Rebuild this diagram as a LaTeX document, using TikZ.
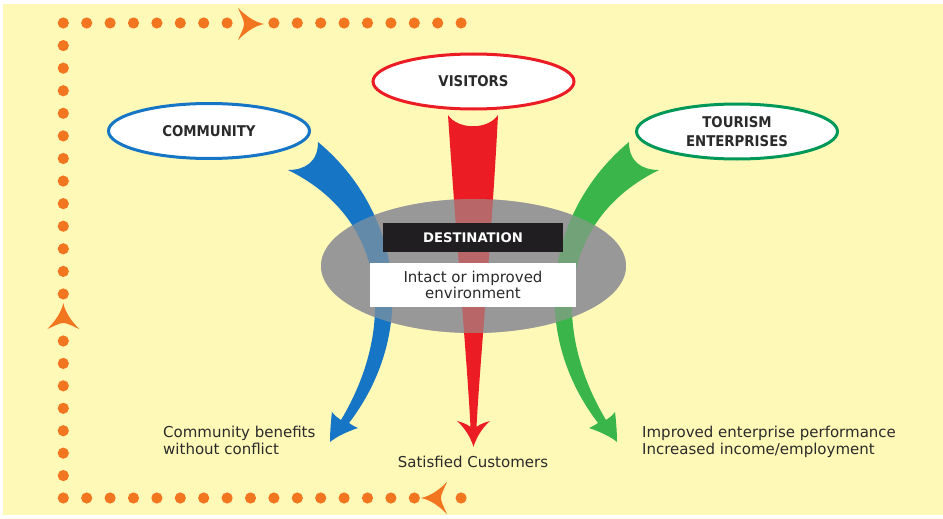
\documentclass[tikz,border=0pt]{standalone}
\usepackage{fontspec}
\setmainfont{DejaVu Sans}
\newfontfamily\ovalfont{DejaVu Sans}[FakeStretch=0.9]
\usetikzlibrary{shapes.geometric}

\definecolor{bgyellow}{RGB}{255,249,184}
\definecolor{looporange}{RGB}{242,118,32}
\definecolor{flowblue}{RGB}{22,117,196}
\definecolor{flowred}{RGB}{236,28,36}
\definecolor{flowgreen}{RGB}{57,181,74}
\definecolor{rimgreen}{RGB}{0,152,88}
\definecolor{destgrey}{RGB}{152,152,152}
\definecolor{bartext}{RGB}{32,30,32}
\definecolor{inktext}{RGB}{42,42,42}

\tikzset{
  topoval/.style={ellipse, fill=white, line width=3pt, minimum width=201pt,
    minimum height=55pt, inner sep=0pt, text=inktext, align=center,
    font=\ovalfont\bfseries\fontsize{14.8}{19.5}\selectfont},
  outcome/.style={inner sep=0pt, text=inktext, align=left,
    font=\fontsize{15}{17.5}\selectfont},
  loophead/.pic={
    \fill[looporange] (14,0) .. controls (4,-2) and (-5,-9) .. (-12,-16)
      .. controls (-9,-9) and (-6,-4) .. (-6,0)
      .. controls (-6,4) and (-9,9) .. (-12,16)
      .. controls (-5,9) and (4,2) .. (14,0) -- cycle;
  },
  loopdot/.style={fill=looporange}
}

\begin{document}
\begin{tikzpicture}[x=1pt,y=-1pt]
\useasboundingbox (0,0) rectangle (943,519);
\fill[white] (0,0) rectangle (943,519);
\fill[bgyellow] (3,4) rectangle (943,515);

% dotted feedback loop
\foreach \k in {0,...,17}{
  \ifnum\k=8\else \fill[loopdot] (63.3+23.4*\k,23) circle[radius=5.6pt]; \fi
  \ifnum\k=16\else \fill[loopdot] (63.3+23.4*\k,498) circle[radius=5.6pt]; \fi
}
\foreach \k in {1,...,12}{ \fill[loopdot] (63.3,23+22.58*\k) circle[radius=5.6pt]; }
\foreach \k in {0,...,6}{ \fill[loopdot] (63.3,341+22.43*\k) circle[radius=5.6pt]; }
\pic at (250,24) {loophead};
\pic[rotate=90] at (63.3,317) {loophead};
\pic[rotate=180] at (435,498) {loophead};

% destination ellipse (solid base)
\node[ellipse, fill=destgrey, minimum width=305pt, minimum height=134pt,
  inner sep=0pt] (dest) at (473.5,266) {};

% community flow
\fill[flowblue] (318,142) .. controls (400,210) and (420,330) .. (349,423)
  .. controls (352,425) and (355,427) .. (358,428)
  .. controls (346,432) and (336,437) .. (330,442)
  .. controls (330,432) and (331,420) .. (332,412)
  .. controls (335,416) and (338,418) .. (341,420)
  .. controls (395,330) and (390,220) .. (288,170)
  .. controls (305,170) and (318,162) .. (318,142) -- cycle;

% tourism enterprise flow (mirror of the community flow)
\begin{scope}[xshift=947pt, xscale=-1]
\fill[flowgreen] (318,142) .. controls (400,210) and (420,330) .. (349,423)
  .. controls (352,425) and (355,427) .. (358,428)
  .. controls (346,432) and (336,437) .. (330,442)
  .. controls (330,432) and (331,420) .. (332,412)
  .. controls (335,416) and (338,418) .. (341,420)
  .. controls (395,330) and (390,220) .. (288,170)
  .. controls (305,170) and (318,162) .. (318,142) -- cycle;
\end{scope}

% visitor flow
\fill[flowred] (448,115) .. controls (458,130) and (488,130) .. (498,115)
  .. controls (491,250) and (480,360) .. (476.5,427)
  .. controls (480,424) and (486,422) .. (490,421)
  .. controls (482,428) and (476,438) .. (473.5,447)
  .. controls (471,438) and (465,428) .. (457,421)
  .. controls (461,422) and (467,424) .. (470.5,427)
  .. controls (467,360) and (457,250) .. (448,115) -- cycle;

% translucent veil over the flows
\fill[destgrey, fill opacity=0.6] (dest.center) ellipse[x radius=152.5pt, y radius=67pt];

\node[fill=bartext, minimum width=180pt, minimum height=29pt, inner sep=0pt,
  text=white, font=\bfseries\fontsize{13.2}{16}\selectfont] (destbar)
  at (473,237.5) {DESTINATION};
\node[fill=white, minimum width=206pt, minimum height=44pt, inner sep=0pt,
  text=inktext, align=center, font=\fontsize{15}{16}\selectfont] (envbox)
  at (473,285) {Intact or improved\\environment};

% stakeholders
\node[topoval, draw=flowblue] (community) at (209,131) {COMMUNITY};
\node[topoval, draw=flowred] (visitors) at (473.5,81.5) {VISITORS};
\node[topoval, draw=rimgreen] (tourism) at (737,131.5) {TOURISM\\ENTERPRISES};

% outcomes
\node[outcome, anchor=north west] (commout) at (163,425.8)
  {Community benefits\\without conflict};
\node[outcome, anchor=base] (visout) at (473,467) {Satisfied Customers};
\node[outcome, anchor=north west] (entout) at (642,425.8)
  {Improved enterprise performance\\Increased income/employment};
\end{tikzpicture}
\end{document}
